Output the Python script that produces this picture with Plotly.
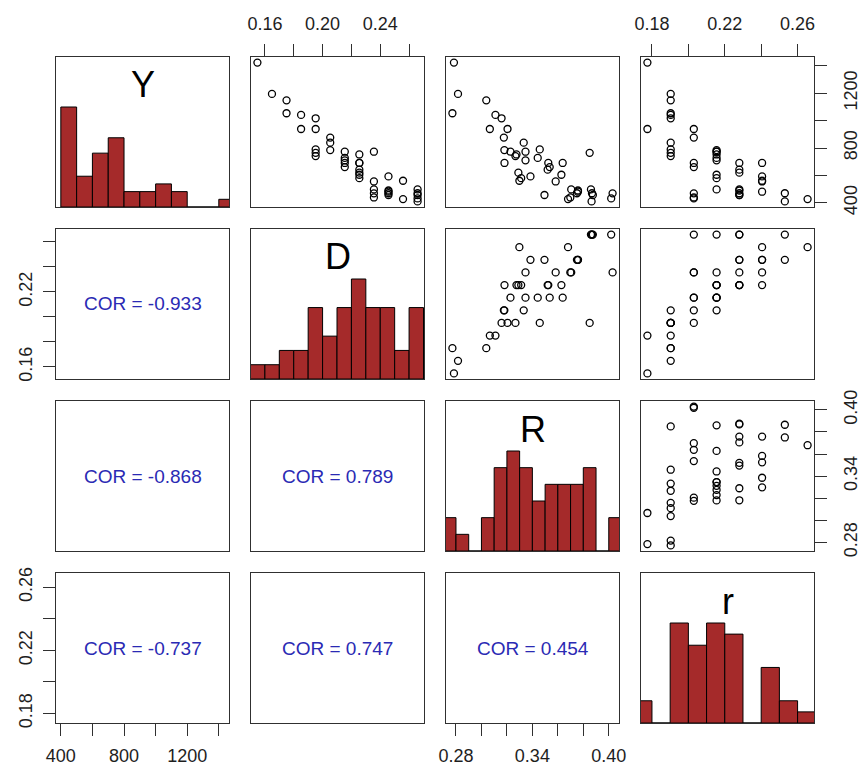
import numpy as np
import plotly.graph_objects as go

# ---------------- data ----------------
names = ["Y", "D", "R", "r"]

Y = [1424, 1195, 1148, 1054, 939, 1042, 1017, 939, 790, 765, 741, 839, 876, 785,
     691, 661, 773, 728, 710, 753, 605, 580, 691, 642, 620, 691,
     469, 439, 773, 498, 556, 490, 457, 593, 481, 470, 561, 427,
     432, 498, 470, 457, 410]

D = [0.1548, 0.1649, 0.1750, 0.1750, 0.1851, 0.1851,
     0.1952, 0.1952, 0.1952, 0.1952, 0.1952,
     0.2053, 0.2053, 0.2053,
     0.2154, 0.2154, 0.2154, 0.2154, 0.2154,
     0.2255, 0.2255, 0.2255, 0.2255, 0.2255, 0.2255, 0.2255,
     0.2356, 0.2356, 0.2356, 0.2356, 0.2356,
     0.2457, 0.2457, 0.2457, 0.2457, 0.2457,
     0.2558, 0.2558,
     0.2659, 0.2659, 0.2659, 0.2659, 0.2659]

R = [0.2784, 0.2816, 0.3038, 0.2772, 0.3066, 0.3110, 0.3158, 0.3205, 0.3458, 0.3850,
     0.3267, 0.3332, 0.3176, 0.3180, 0.3638, 0.3536, 0.3228, 0.3442, 0.3346, 0.3275,
     0.3628, 0.3312, 0.3181, 0.3520, 0.3290, 0.3525, 0.4030, 0.3698, 0.3346, 0.3705,
     0.3583, 0.3758, 0.3495, 0.3385, 0.3758, 0.3750, 0.3298, 0.3680, 0.4019, 0.3860,
     0.3868, 0.3875, 0.3865]

r = [0.1775, 0.1903, 0.1903, 0.1903, 0.1775, 0.1903, 0.1903, 0.2030, 0.1903, 0.1903,
     0.1903, 0.1903, 0.2030, 0.2155, 0.2030, 0.2030, 0.2155, 0.2155, 0.2155, 0.2155,
     0.2155, 0.2155, 0.2280, 0.2280, 0.2280, 0.2405, 0.2030, 0.2030, 0.2155, 0.2280,
     0.2405, 0.2280, 0.2280, 0.2405, 0.2405, 0.2530, 0.2405, 0.2655, 0.2030, 0.2155,
     0.2280, 0.2280, 0.2530]

# histogram break points
Y_breaks = [400, 500, 600, 700, 800, 900, 1000, 1100, 1200, 1300, 1400, 1500]
D_breaks = [0.15, 0.16, 0.17, 0.18, 0.19, 0.20, 0.21, 0.22, 0.23, 0.24, 0.25, 0.26, 0.27]
R_breaks = [0.27, 0.28, 0.29, 0.30, 0.31, 0.32, 0.33, 0.34, 0.35, 0.36, 0.37, 0.38,
            0.39, 0.40, 0.41]
r_breaks = [0.17, 0.18, 0.19, 0.20, 0.21, 0.22, 0.23, 0.24, 0.25, 0.26, 0.27]

# tick positions and labels
Y_ticks = [400, 600, 800, 1000, 1200, 1400]
Y_labels = ["400", "", "800", "", "1200", ""]
D_ticks = [0.16, 0.18, 0.20, 0.22, 0.24, 0.26]
D_labels_top = ["0.16", "", "0.20", "", "0.24", ""]
D_labels_left = ["0.16", "", "", "0.22", "", ""]
R_ticks = [0.28, 0.30, 0.32, 0.34, 0.36, 0.38, 0.40]
R_labels = ["0.28", "", "", "0.34", "", "", "0.40"]
r_ticks = [0.18, 0.20, 0.22, 0.24, 0.26]
r_labels = ["0.18", "", "0.22", "", "0.26"]

# correlation labels for the lower panels (row, col)
cor_cells = [(1, 0), (2, 0), (2, 1), (3, 0), (3, 1), (3, 2)]
cor_labels = ["COR = -0.933", "COR = -0.868", "COR = 0.789",
              "COR = -0.737", "COR = 0.747", "COR = 0.454"]

# ---------------- layout geometry ----------------
W, H = 862, 769
col_left = [56, 251, 446, 641]
row_top = [57, 229, 401, 573]
PW, PH = 173, 150

FONT = "Liberation Sans, Arial, sans-serif"
LINE = "#303030"
BAR = "#A52A2A"
TXT = "#1e1e1e"
BLUE = "#2a2ab4"

data = {"Y": Y, "D": D, "R": R, "r": r}
breaks = {"Y": Y_breaks, "D": D_breaks, "R": R_breaks, "r": r_breaks}


def rng(v):
    lo, hi = min(v), max(v)
    p = 0.04 * (hi - lo)
    return [lo - p, hi + p]


ranges = {k: rng(v) for k, v in data.items()}

fig = go.Figure()
layout = {}
annotations = []


def tickstyle(standoff):
    return dict(ticks="outside", ticklen=12, tickwidth=1.4, tickcolor=LINE,
                showticklabels=True, ticklabelstandoff=standoff,
                tickfont=dict(family=FONT, size=18, color=TXT))


for i in range(4):
    for j in range(4):
        n = i * 4 + j + 1
        xa = "x" if n == 1 else f"x{n}"
        ya = "y" if n == 1 else f"y{n}"
        xkey = "xaxis" if n == 1 else f"xaxis{n}"
        ykey = "yaxis" if n == 1 else f"yaxis{n}"
        vx = names[j]
        vy = names[i]
        base = dict(showline=True, mirror=True, linecolor=LINE, linewidth=1.4,
                    showgrid=False, zeroline=False, ticks="", showticklabels=False,
                    fixedrange=True, automargin=False)
        xaxis = dict(base, domain=[col_left[j] / W, (col_left[j] + PW) / W],
                     anchor=ya, range=ranges[vx])
        yaxis = dict(base, domain=[1 - (row_top[i] + PH) / H, 1 - row_top[i] / H],
                     anchor=xa)
        if i == j:
            yaxis["range"] = [0, 1.5]
        else:
            yaxis["range"] = ranges[vy]

        # x axis ticks
        if i == 0 and j == 1:
            xaxis.update(tickstyle(7), side="top", tickvals=D_ticks, ticktext=D_labels_top)
        if i == 0 and j == 3:
            xaxis.update(tickstyle(7), side="top", tickvals=r_ticks, ticktext=r_labels)
        if i == 3 and j == 0:
            xaxis.update(tickstyle(4), side="bottom", tickvals=Y_ticks, ticktext=Y_labels)
        if i == 3 and j == 2:
            xaxis.update(tickstyle(4), side="bottom", tickvals=R_ticks, ticktext=R_labels)
        # y axis ticks
        if j == 0 and i == 1:
            yaxis.update(tickstyle(4), side="left", tickvals=D_ticks, ticktext=D_labels_left,
                         tickangle=-90)
        if j == 0 and i == 3:
            yaxis.update(tickstyle(4), side="left", tickvals=r_ticks, ticktext=r_labels,
                         tickangle=-90)
        if j == 3 and i == 0:
            yaxis.update(tickstyle(8), side="right", tickvals=Y_ticks, ticktext=Y_labels,
                         tickangle=-90)
        if j == 3 and i == 2:
            yaxis.update(tickstyle(8), side="right", tickvals=R_ticks, ticktext=R_labels,
                         tickangle=-90)

        layout[xkey] = xaxis
        layout[ykey] = yaxis

        if i == j:
            b = np.array(breaks[vx], dtype=float)
            counts, _ = np.histogram(np.array(data[vx]), bins=b)
            heights = counts / counts.max()
            centers = (b[:-1] + b[1:]) / 2
            widths = np.diff(b)
            fig.add_trace(go.Bar(x=centers, y=heights, width=widths,
                                 marker=dict(color=BAR, line=dict(color="black", width=1)),
                                 xaxis=xa, yaxis=ya, showlegend=False, hoverinfo="skip"))
            annotations.append(dict(text=vx, xref=f"{xa} domain", yref=f"{ya} domain",
                                    x=0.5, y=1 - 28 / PH, xanchor="center", yanchor="middle",
                                    showarrow=False,
                                    font=dict(family=FONT, size=36, color="black")))
        elif j > i:
            fig.add_trace(go.Scatter(x=data[vx], y=data[vy], mode="markers",
                                     marker=dict(symbol="circle-open", size=7, color="black",
                                                 line=dict(width=1.3)),
                                     xaxis=xa, yaxis=ya, showlegend=False))
        else:
            # empty placeholder so the panel frame and its axes are drawn
            fig.add_trace(go.Scatter(x=[None], y=[None], mode="markers",
                                     xaxis=xa, yaxis=ya, showlegend=False,
                                     hoverinfo="skip"))

for (ci, cj), lab in zip(cor_cells, cor_labels):
    n = ci * 4 + cj + 1
    xa = "x" if n == 1 else f"x{n}"
    ya = "y" if n == 1 else f"y{n}"
    annotations.append(dict(text=lab, xref=f"{xa} domain", yref=f"{ya} domain",
                            x=0.5, y=0.5, xanchor="center", yanchor="middle",
                            showarrow=False, font=dict(family=FONT, size=19, color=BLUE)))

fig.update_layout(width=W, height=H, margin=dict(l=0, r=0, t=0, b=0),
                  paper_bgcolor="white", plot_bgcolor="white",
                  showlegend=False, annotations=annotations, **layout)

fig.write_html("out.html")
